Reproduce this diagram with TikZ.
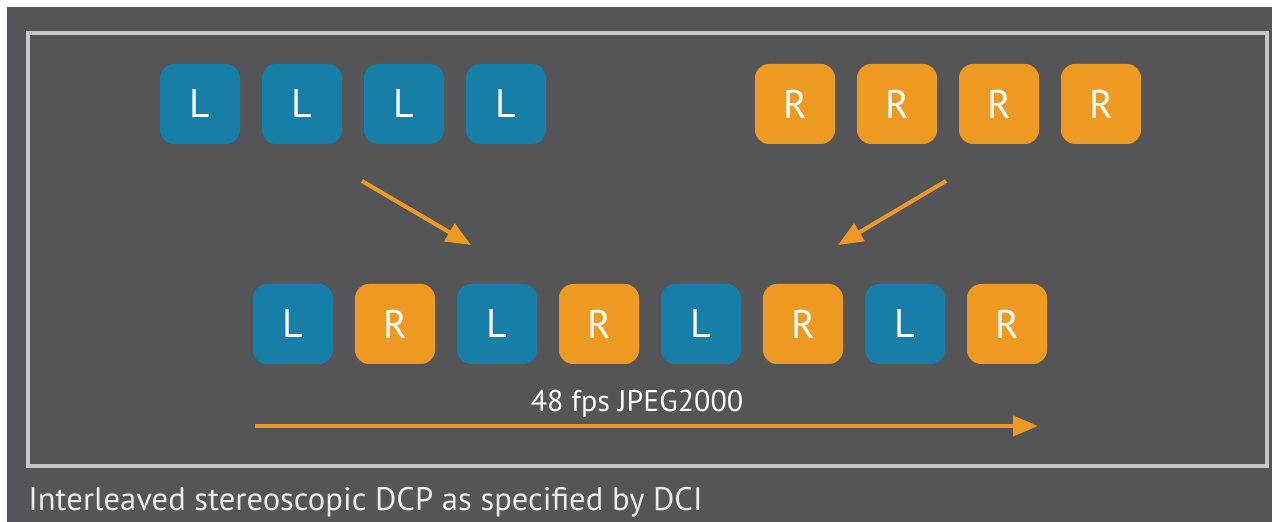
\documentclass[tikz,border=0pt]{standalone}
\usepackage{fontspec}
\setmainfont{PT Sans}
\usetikzlibrary{arrows.meta}
\definecolor{bggray}{HTML}{555557}
\definecolor{framegray}{HTML}{C8C8C8}
\definecolor{leftblue}{HTML}{177EA8}
\definecolor{rightorange}{HTML}{EE9A22}
\definecolor{captiongray}{HTML}{ECECEC}
\tikzset{
	eyebox/.style={rounded corners=7pt, minimum size=40pt, inner sep=0pt, text=white, font=\fontsize{20}{20}\selectfont},
	lbox/.style={eyebox, fill=leftblue},
	rbox/.style={eyebox, fill=rightorange},
	flow/.style={draw=rightorange, line width=2pt, -{Triangle[length=12.5pt,width=10pt]}}
}

\begin{document}
\begin{tikzpicture}[x=0.5pt, y=-0.5pt]
			%%%%% START %%%%%
			
			\useasboundingbox (0, 0) rectangle (1272, 522);
			\fill[white] (0, 0) rectangle (1272, 522);
			\fill[bggray] (7, 7) rectangle (1272, 522);
			\draw[framegray, line width=2pt] (28, 33) rectangle (1267, 466);
			
			\node[lbox] (l1) at (200, 104) {L};
			\node[lbox] (l2) at (302, 104) {L};
			\node[lbox] (l3) at (404, 104) {L};
			\node[lbox] (l4) at (506, 104) {L};
			
			\node[rbox] (r1) at (795, 104) {R};
			\node[rbox] (r2) at (897, 104) {R};
			\node[rbox] (r3) at (999, 104) {R};
			\node[rbox] (r4) at (1101, 104) {R};
			
			\node[lbox] (s1) at (293, 324) {L};
			\node[rbox] (s2) at (395, 324) {R};
			\node[lbox] (s3) at (497, 324) {L};
			\node[rbox] (s4) at (599, 324) {R};
			\node[lbox] (s5) at (701, 324) {L};
			\node[rbox] (s6) at (803, 324) {R};
			\node[lbox] (s7) at (905, 324) {L};
			\node[rbox] (s8) at (1007, 324) {R};
			
			\coordinate (lfrom) at (362, 181);
			\coordinate (lto) at (471, 245);
			\coordinate (rfrom) at (946, 181);
			\coordinate (rto) at (838, 245);
			\draw[flow] (lfrom) -- (lto);
			\draw[flow] (rfrom) -- (rto);
			
			\node[text=white, font=\fontsize{15}{15}\selectfont] (rate) at (637, 404) {48 fps JPEG2000};
			\coordinate (tstart) at (255, 426);
			\coordinate (tend) at (1038, 426);
			\draw[flow] (tstart) -- (tend);
			
			\node[anchor=base west, inner sep=0pt, text=captiongray, font=\fontsize{16.3}{16.3}\selectfont] (caption) at (28, 510) {Interleaved stereoscopic DCP as specified by DCI};
			
			%%%%% END %%%%%
\end{tikzpicture}
\end{document}
